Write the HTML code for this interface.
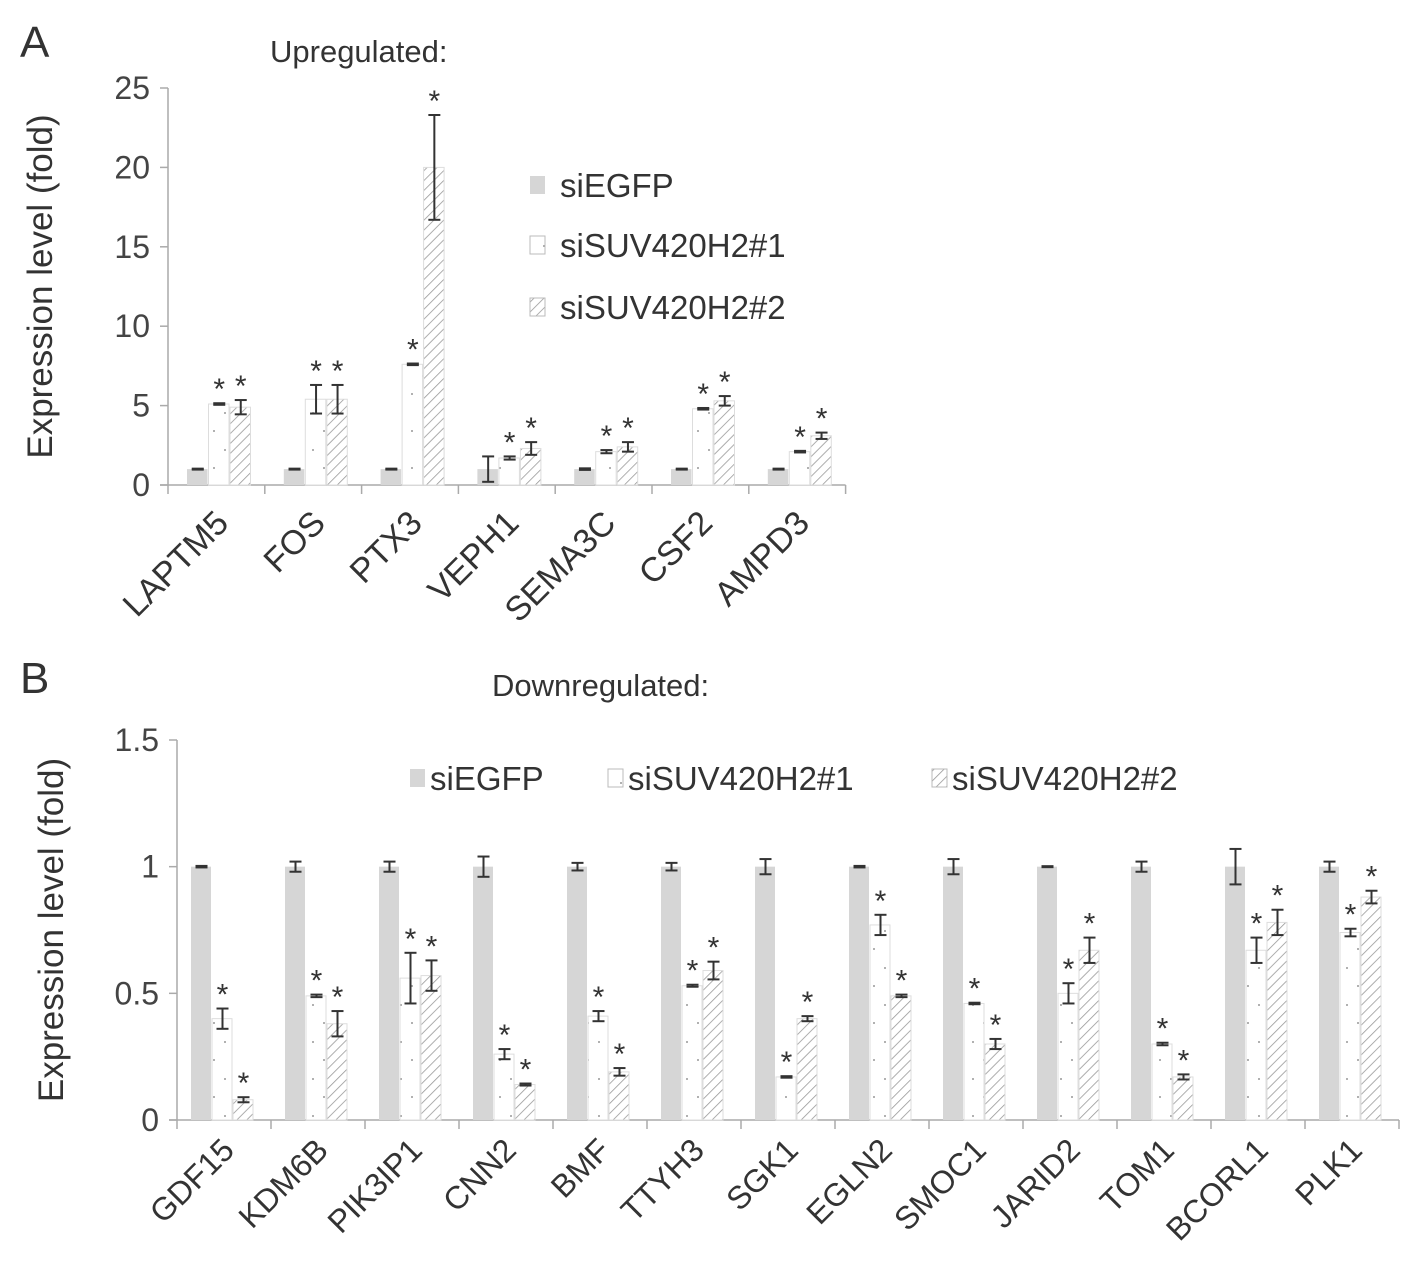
<!DOCTYPE html>
<html><head><meta charset="utf-8"><style>
html,body{margin:0;padding:0;background:#fff;}
svg{display:block;font-family:"Liberation Sans",Arial,sans-serif;}
</style></head><body>
<svg id="chart" width="1417" height="1285" viewBox="0 0 1417 1285">
<defs>
<pattern id="hatch" patternUnits="userSpaceOnUse" width="7" height="7" patternTransform="rotate(45)">
<rect width="7" height="7" fill="#fff"/><line x1="0" y1="0" x2="0" y2="7" stroke="#999" stroke-width="1.6"/>
</pattern>
<pattern id="dots" patternUnits="userSpaceOnUse" width="22" height="37">
<rect width="22" height="37" fill="#fff"/><circle cx="5" cy="6" r="1" fill="#999"/><circle cx="16" cy="24" r="1" fill="#999"/>
</pattern>
</defs>
<text x="20" y="57" font-size="44" fill="#333">A</text>
<text x="20" y="693" font-size="44" fill="#333">B</text>
<text x="270" y="62" font-size="31" fill="#333">Upregulated:</text>
<text x="492" y="696" font-size="31" fill="#333">Downregulated:</text>
<g id="A"></g><g id="B"></g>
</svg>
<script>
const catsA=["LAPTM5","FOS","PTX3","VEPH1","SEMA3C","CSF2","AMPD3"];
const egfpA=[1,1,1,1,1,1,1];
const egfpErrA=[0.03,0.03,0.03,0.8,0.05,0.03,0.03];
const s1A=[5.1,5.4,7.6,1.7,2.1,4.8,2.1];
const s1ErrA=[0.05,0.9,0.05,0.1,0.1,0.05,0.05];
const s2A=[4.9,5.4,20.0,2.3,2.4,5.3,3.1];
const s2ErrA=[0.45,0.9,3.3,0.4,0.3,0.3,0.2];
const ticksA=[0,5,10,15,20,25];

const catsB=["GDF15","KDM6B","PIK3IP1","CNN2","BMF","TTYH3","SGK1","EGLN2","SMOC1","JARID2","TOM1","BCORL1","PLK1"];
const egfpB=[1,1,1,1,1,1,1,1,1,1,1,1,1];
const egfpErrB=[0.003,0.02,0.02,0.04,0.015,0.015,0.03,0.003,0.03,0.002,0.02,0.07,0.02];
const s1B=[0.40,0.49,0.56,0.26,0.41,0.53,0.17,0.77,0.46,0.50,0.30,0.67,0.74];
const s1ErrB=[0.04,0.005,0.1,0.02,0.02,0.004,0.003,0.04,0.003,0.04,0.005,0.05,0.015];
const s2B=[0.08,0.38,0.57,0.14,0.19,0.59,0.40,0.49,0.30,0.67,0.17,0.78,0.88];
const s2ErrB=[0.01,0.05,0.06,0.004,0.015,0.035,0.01,0.005,0.02,0.05,0.01,0.05,0.025];
const ticksB=[0,0.5,1,1.5];

const NS="http://www.w3.org/2000/svg";
function mk(parent,tag,attrs,txt){const e=document.createElementNS(NS,tag);for(const k in attrs)e.setAttribute(k,attrs[k]);if(txt!==undefined)e.textContent=txt;parent.appendChild(e);return e;}

function panel(g,cfg){
  const y=v=>cfg.y0-(v-cfg.min)/(cfg.max-cfg.min)*(cfg.y0-cfg.yTop);
  const n=cfg.cats.length, x1=cfg.x0+n*cfg.gw;
  let e=mk(g,'line',{x1:cfg.x0,y1:cfg.yTop,x2:cfg.x0,y2:cfg.y0,stroke:'#aaa','stroke-width':1.5});
  
  e=mk(g,'line',{x1:cfg.x0-8,y1:cfg.y0,x2:x1,y2:cfg.y0,stroke:'#aaa','stroke-width':1.5});
  
  cfg.ticks.forEach(t=>{
    e=mk(g,'line',{x1:cfg.x0-8,y1:y(t),x2:cfg.x0,y2:y(t),stroke:'#aaa','stroke-width':1.5});
    
    e=mk(g,'text',{x:cfg.x0-18,y:y(t)+11,'font-size':32,'text-anchor':'end',fill:'#444'},String(t));
    
  });
  for(let i=0;i<=n;i++){
    e=mk(g,'line',{x1:cfg.x0+i*cfg.gw,y1:cfg.y0,x2:cfg.x0+i*cfg.gw,y2:cfg.y0+9,stroke:'#aaa','stroke-width':1.5});
    
  }
  const yc=(cfg.yTop+cfg.y0)/2;
  e=mk(g,'text',{x:cfg.titleX,y:yc,'font-size':35,'text-anchor':'middle',fill:'#333',transform:`rotate(-90 ${cfg.titleX} ${yc})`},'Expression level (fold)');
  
  const series=[[cfg.egfp,cfg.egfpErr,'#d6d6d6',false],[cfg.s1,cfg.s1Err,'url(#dots)',true],[cfg.s2,cfg.s2Err,'url(#hatch)',true]];
  cfg.cats.forEach((c,i)=>{
    const gx=cfg.x0+i*cfg.gw;
    series.forEach((s,j)=>{
      const bx=gx+cfg.off+j*cfg.bw, v=s[0][i], er=s[1][i];
      e=mk(g,'rect',{x:bx,y:y(v),width:cfg.bw-1,height:cfg.y0-y(v),fill:s[2],stroke:j?'#ddd':'none','stroke-width':1});
      
      const cx=bx+cfg.bw/2, t=y(v+er), b=y(v-er);
      const eg=mk(g,'g',{stroke:'#333','stroke-width':2});
      
      mk(eg,'line',{x1:cx,y1:t,x2:cx,y2:b});
      mk(eg,'line',{x1:cx-6,y1:t,x2:cx+6,y2:t});
      mk(eg,'line',{x1:cx-6,y1:b,x2:cx+6,y2:b});
      if(s[3]){
        e=mk(g,'text',{x:cx,y:Math.min(t,y(v))-4,'font-size':30,'text-anchor':'middle',fill:'#333'},'*');
        
      }
    });
    const lx=gx+cfg.gw/2+cfg.lblDx, ly=cfg.y0+cfg.lblDy;
    e=mk(g,'text',{x:lx,y:ly,'font-size':cfg.lblSize,'text-anchor':'end',fill:'#333',transform:`rotate(-45 ${lx} ${ly})`},c);
    
  });
  cfg.legend.forEach((L,k)=>{
    const fills=['#d6d6d6','url(#dots)','url(#hatch)'];
    e=mk(g,'rect',{x:L[0],y:L[1]-9,width:15,height:18,fill:fills[k],stroke:k?'#bbb':'none'});
    
    e=mk(g,'text',{x:L[0]+cfg.legDx,y:L[1]+12,'font-size':33,fill:'#333'},['siEGFP','siSUV420H2#1','siSUV420H2#2'][k]);
    
  });
}
panel(document.getElementById('A'),{cats:catsA,egfp:egfpA,egfpErr:egfpErrA,s1:s1A,s1Err:s1ErrA,s2:s2A,s2Err:s2ErrA,ticks:ticksA,
  min:0,max:25,x0:168,y0:485,yTop:88,gw:96.8,off:19,bw:21.5,titleX:52,lblDx:14,lblDy:40,lblSize:34,legDx:30,
  legend:[[530,185],[530,245],[530,307]]});
panel(document.getElementById('B'),{cats:catsB,egfp:egfpB,egfpErr:egfpErrB,s1:s1B,s1Err:s1ErrB,s2:s2B,s2Err:s2ErrB,ticks:ticksB,
  min:0,max:1.5,x0:177,y0:1120,yTop:740,gw:94,off:14,bw:21,titleX:63,lblDx:12,lblDy:32,lblSize:32,legDx:20,
  legend:[[410,778],[608,778],[932,778]]});
</script>
</body></html>
